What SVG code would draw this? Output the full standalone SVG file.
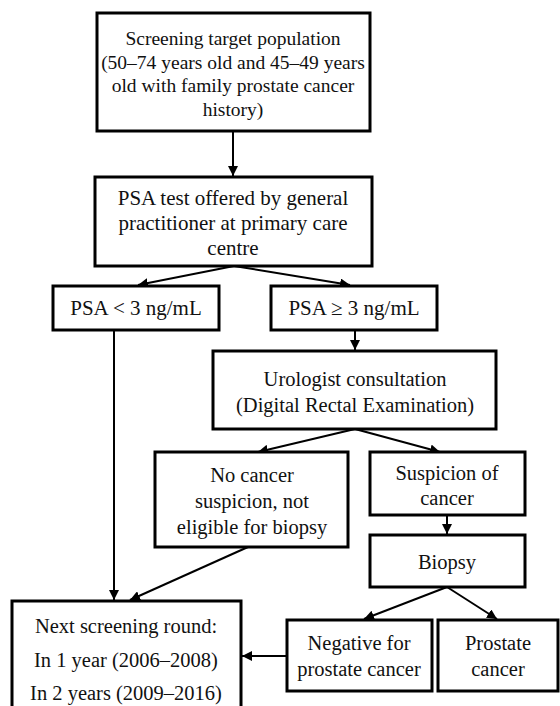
<svg xmlns="http://www.w3.org/2000/svg" width="560" height="706" viewBox="0 0 560 706">
<defs>
<marker id="ah" viewBox="0 0 10 10" refX="10" refY="5" markerWidth="5" markerHeight="5" orient="auto" markerUnits="strokeWidth">
<path d="M0,0 L10,5 L0,10 z" fill="#000"/>
</marker>
</defs>
<style>
.box{fill:#fff;stroke:#000;stroke-width:3}
.t{font-family:"Liberation Serif","Times New Roman",serif;font-size:20.5px;fill:#111;text-anchor:middle}
.c{stroke:#000;stroke-width:2;fill:none;marker-end:url(#ah)}
</style>
<rect width="560" height="706" fill="#fff"/>
<g id="connectors">
<line class="c" x1="233" y1="131" x2="233" y2="176"/>
<line class="c" x1="234" y1="266" x2="138" y2="285"/>
<line class="c" x1="234" y1="266" x2="350" y2="285"/>
<line class="c" x1="114" y1="330" x2="114" y2="600"/>
<line class="c" x1="355" y1="330" x2="355" y2="350"/>
<line class="c" x1="355" y1="429" x2="258" y2="452"/>
<line class="c" x1="355" y1="429" x2="440" y2="452"/>
<line class="c" x1="447" y1="515" x2="447" y2="534"/>
<line class="c" x1="248" y1="547" x2="130" y2="600"/>
<line class="c" x1="447" y1="587" x2="364" y2="619"/>
<line class="c" x1="447" y1="587" x2="497" y2="619"/>
<line class="c" x1="286" y1="656" x2="242" y2="656"/>
</g>
<g id="n1">
<rect class="box" x="97" y="13" width="273" height="118"/>
<text class="t" x="233" y="45" style="font-size:19.5px">Screening target population</text>
<text class="t" x="233" y="69" style="font-size:19.5px">(50–74 years old and 45–49 years</text>
<text class="t" x="233" y="92" style="font-size:19.5px">old with family prostate cancer</text>
<text class="t" x="233" y="116" style="font-size:19.5px">history)</text>
</g>
<g id="n2">
<rect class="box" x="95" y="177" width="277" height="89"/>
<text class="t" x="233" y="205" style="font-size:21px">PSA test offered by general</text>
<text class="t" x="233" y="230" style="font-size:21px">practitioner at primary care</text>
<text class="t" x="233" y="255" style="font-size:21px">centre</text>
</g>
<g id="n3">
<rect class="box" x="53" y="286" width="166" height="44"/>
<text class="t" x="136" y="315" style="font-size:21px">PSA &lt; 3 ng/mL</text>
</g>
<g id="n4">
<rect class="box" x="271" y="286" width="166" height="44"/>
<text class="t" x="354" y="315" style="font-size:21px">PSA ≥ 3 ng/mL</text>
</g>
<g id="n5">
<rect class="box" x="213" y="351" width="283" height="78"/>
<text class="t" x="355" y="386">Urologist consultation</text>
<text class="t" x="355" y="412">(Digital Rectal Examination)</text>
</g>
<g id="n6">
<rect class="box" x="155" y="452" width="193" height="95"/>
<text class="t" x="252" y="482">No cancer</text>
<text class="t" x="252" y="508">suspicion, not</text>
<text class="t" x="252" y="534">eligible for biopsy</text>
</g>
<g id="n7">
<rect class="box" x="370" y="452" width="155" height="63"/>
<text class="t" x="447" y="480">Suspicion of</text>
<text class="t" x="447" y="505">cancer</text>
</g>
<g id="n8">
<rect class="box" x="370" y="535" width="155" height="52"/>
<text class="t" x="447" y="569">Biopsy</text>
</g>
<g id="n9">
<rect class="box" x="12" y="601" width="229" height="120"/>
<text class="t" x="126" y="633">Next screening round:</text>
<text class="t" x="126" y="667">In 1 year (2006–2008)</text>
<text class="t" x="126" y="700">In 2 years (2009–2016)</text>
</g>
<g id="n10">
<rect class="box" x="287" y="620" width="145" height="71"/>
<text class="t" x="359" y="650">Negative for</text>
<text class="t" x="359" y="676">prostate cancer</text>
</g>
<g id="n11">
<rect class="box" x="438" y="620" width="120" height="71"/>
<text class="t" x="498" y="650">Prostate</text>
<text class="t" x="498" y="676">cancer</text>
</g>
</svg>
